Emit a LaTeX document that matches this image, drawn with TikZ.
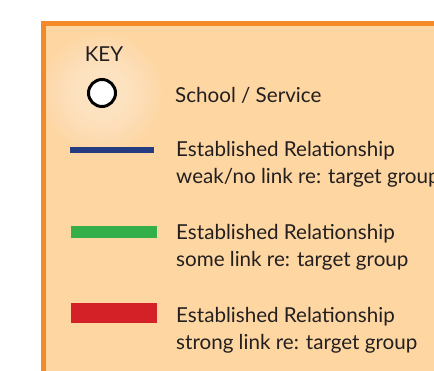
\documentclass[tikz,border=0pt]{standalone}
\usepackage{fontspec}
\setmainfont{Lato}
\definecolor{keyfill}{RGB}{253,214,161}
\definecolor{keyglow}{RGB}{254,240,218}
\definecolor{keyborder}{RGB}{244,137,41}
\definecolor{weakblue}{RGB}{38,60,128}
\definecolor{somegreen}{RGB}{52,175,74}
\definecolor{strongred}{RGB}{212,32,39}
\definecolor{keytext}{RGB}{35,31,32}
\tikzset{
  keylabel/.style={anchor=base west, inner sep=0pt, text=keytext, font=\fontsize{20.6}{27}\selectfont, align=left},
  bar/.style={line width=#1, line cap=butt},
}
\begin{document}
\begin{tikzpicture}[x=1pt,y=-1pt]
\useasboundingbox (0,0) rectangle (434,370);
\clip (0,0) rectangle (434,370);
\fill[white] (0,0) rectangle (434,370);
\fill[keyfill] (43,23) rectangle (470,400);
\foreach \r in {60,57,...,3} {
  \fill[keyglow, opacity=0.07] (102,93) circle (\r);
}
\draw[keyborder, line width=4.5pt] (43.25,23.25) rectangle (470,400);
\node[keylabel, anchor=base] (key) at (104,61) {KEY};
\node[circle, draw=black, fill=white, line width=3pt, minimum size=27pt, inner sep=0pt] (school) at (102,93) {};
\node[keylabel] (schooltxt) at (175,102) {School / Service};
\coordinate (b1) at (70,150);
\coordinate (b2) at (154,150);
\draw[weakblue, bar=6pt] (b1) -- (b2);
\node[keylabel] (weaktxt) at (176,183) {Established Relationship\\weak/no link re: target group};
\coordinate (g1) at (71,232);
\coordinate (g2) at (157,232);
\draw[somegreen, bar=12pt] (g1) -- (g2);
\node[keylabel] (sometxt) at (176,266) {Established Relationship\\some link re: target group};
\coordinate (r1) at (71,313);
\coordinate (r2) at (157,313);
\draw[strongred, bar=20pt] (r1) -- (r2);
\node[keylabel] (strongtxt) at (176,349) {Established Relationship\\strong link re: target group};
\end{tikzpicture}
\end{document}
